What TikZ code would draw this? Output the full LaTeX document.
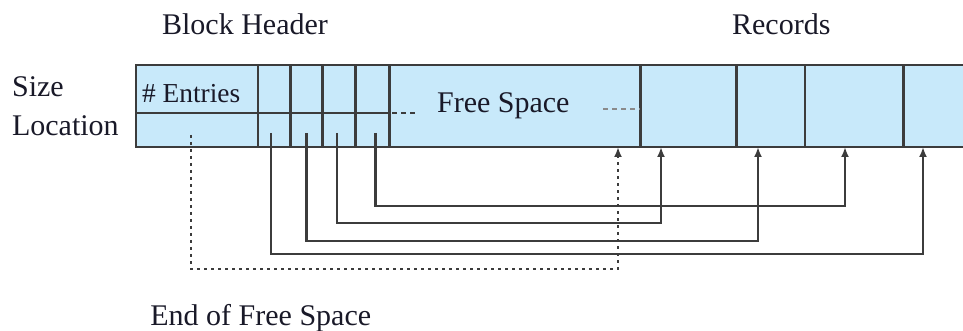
\documentclass[tikz,border=0pt]{standalone}
\usepackage{fontspec}
\setmainfont{Liberation Serif}
\usetikzlibrary{arrows.meta}
\definecolor{cellblue}{RGB}{200,233,250}
\definecolor{linegray}{RGB}{60,60,60}
\definecolor{inkdark}{RGB}{25,25,40}
\tikzset{
    lbl/.style={inner sep=0pt, anchor=base west, text=inkdark, font=\fontsize{15}{18}\selectfont},
    wall/.style={draw=linegray, line width=1.25pt},
    ptr/.style={draw=linegray, line width=1.2pt, -{Latex[length=5pt,width=4pt]}},
    endptr/.style={ptr, dash pattern=on 1.5pt off 2pt},
    gapdash/.style={draw=linegray, line width=1pt, dash pattern=on 2.5pt off 2pt}
}
\begin{document}
\begin{tikzpicture}[x=0.5pt,y=-0.5pt]
        \useasboundingbox (0,0) rectangle (963,331);
        \clip (0,0) rectangle (963,331);
        % block with header, free space and records
        \draw [wall, fill=cellblue] (136,65) rectangle (970,147);
        \draw [wall] (136,113) -- (389.3,113);
        \foreach \x in {258,290.7,322.7,355.3,389.3,640.7,736.7,805,903.3}
            \draw [wall] (\x,65) -- (\x,147);
        \draw [gapdash] (392,113) -- (418,113);
        \draw [gapdash, draw=linegray!60] (603,109) -- (640,109);
        % labels
        \node [lbl] (bhead) at (161.7,35) {Block Header};
        \node [lbl] (recs) at (731.7,35) {Records};
        \node [lbl] (size) at (11.7,96.7) {Size};
        \node [lbl] (loc) at (11.7,136) {Location};
        \node [lbl, font=\fontsize{13.7}{16}\selectfont] (entries) at (141.7,102.7) {\# Entries};
        \node [lbl] (free) at (436.7,112.7) {Free Space};
        \node [lbl] (endfree) at (150,325) {End of Free Space};
        % pointer slots and record starts
        \coordinate (s0) at (191,135);
        \coordinate (s1) at (271,133);
        \coordinate (s2) at (306.5,133);
        \coordinate (s3) at (337,133);
        \coordinate (s4) at (375.3,133);
        \coordinate (f0) at (618,147);
        \coordinate (r1) at (661,147);
        \coordinate (r2) at (758,147);
        \coordinate (r3) at (845,147);
        \coordinate (r4) at (923,147);
        \foreach \s/\r/\d in {s1/r4/121, s2/r2/108, s3/r1/90, s4/r3/73}
            \draw [ptr] (\s) -- ++(0,\d) -| (\r);
        \draw [endptr] (s0) -- ++(0,134) -| (f0);
\end{tikzpicture}
\end{document}
